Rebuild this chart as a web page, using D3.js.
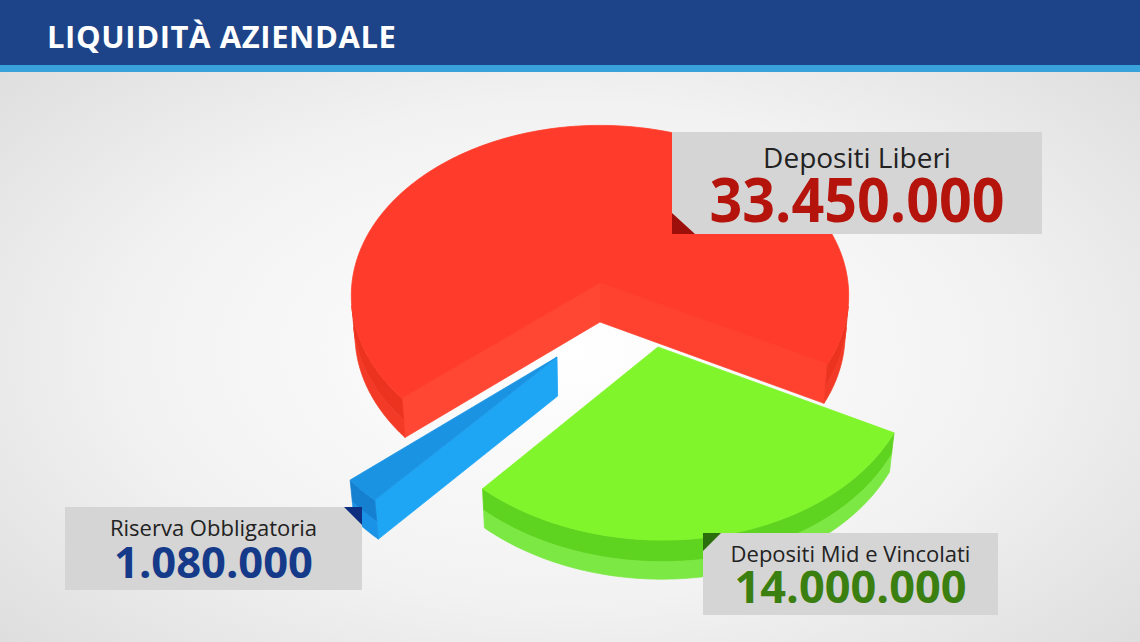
<!DOCTYPE html>
<html><head><meta charset="utf-8">
<script src="https://cdn.jsdelivr.net/npm/d3@7"></script>
<style>html,body{margin:0;padding:0;overflow:hidden;background:#fff}</style>
</head><body>
<svg id="c" width="1140" height="642"></svg>
<script>
// ---- data ----
const title = "LIQUIDITÀ AZIENDALE";
const categories = ["Depositi Liberi", "Depositi Mid e Vincolati", "Riserva Obbligatoria"];
const values = [33450000, 14000000, 1080000];

// ---- layout / style ----
const W = 1140, H = 642;
const P = {cx: 600, cy: 283, F: 2480, D: 10, theta: 43 * Math.PI / 180, thick: 0.218};
const startDeg = 139.5;
const explode = [[0, 0], [0.2276, 0.368], [-0.168, 0.424]];
const palette = [
  {top: "#ff3c2b", cutStart: "#ff4733", cutEnd: "#ff4230", wallTop: "#eb3320", wallBot: "#f23a26"},
  {top: "#80f52b", cutStart: "#78ee26", cutEnd: "#78ee26", wallTop: "#5fd420", wallBot: "#7ce844"},
  {top: "#1b93e3", cutStart: "#1ea6f5", cutEnd: "#1ea6f5", wallTop: "#1580d0", wallBot: "#1a92e6"}
];
const labelStyle = [
  {x: 672, y: 132, w: 370, h: 102, nameSize: 28, valSize: 60, nameY: 36, valY: 90, valColor: "#b5140c", tri: "bl", triColor: "#9c0f0a", valLen: 295},
  {x: 703, y: 533, w: 295, h: 82, nameSize: 22, valSize: 44, nameY: 29, valY: 70, valColor: "#3a7f10", tri: "tl", triColor: "#2b6e0c", valLen: 232},
  {x: 65, y: 507, w: 297, h: 83, nameSize: 22, valSize: 43, nameY: 29, valY: 71, valColor: "#163a8a", tri: "tr", triColor: "#102e80", valLen: 199}
];

const itFmt = d3.formatLocale({decimal: ",", thousands: ".", grouping: [3], currency: ["€", ""]}).format(",d");

const svg = d3.select("#c");
const defs = svg.append("defs");
const bg = defs.append("radialGradient").attr("id", "bg").attr("cx", "50%").attr("cy", "55%").attr("r", "70%");
bg.append("stop").attr("offset", "0%").attr("stop-color", "#ffffff");
bg.append("stop").attr("offset", "55%").attr("stop-color", "#f2f2f2");
bg.append("stop").attr("offset", "100%").attr("stop-color", "#dcdcdc");
svg.append("rect").attr("width", W).attr("height", H).attr("fill", "url(#bg)");

// title bar
svg.append("rect").attr("x", 0).attr("y", 0).attr("width", W).attr("height", 66).attr("fill", "#1d4488");
svg.append("rect").attr("x", 0).attr("y", 65).attr("width", W).attr("height", 7).attr("fill", "#3aa2da");
svg.append("text").attr("x", 47).attr("y", 48).text(title)
  .attr("font-family", "'Open Sans', sans-serif").attr("font-weight", 700)
  .attr("font-size", 31).attr("letter-spacing", 0.6).attr("fill", "#ffffff");

// ---- 3D pie ----
const sinT = Math.sin(P.theta), cosT = Math.cos(P.theta);
function project(u, v, h) {
  const yc = v * sinT - h * cosT;
  const z = P.D - v * cosT - h * sinT;
  return [P.cx + P.F * u / z, P.cy + P.F * yc / z, z];
}
const cam = [0, P.D * cosT, P.D * sinT];

const start = startDeg * Math.PI / 180;
const arcs = d3.pie().sort(null).startAngle(start).endAngle(start + 2 * Math.PI)(values);
const line = d3.line().curve(d3.curveLinearClosed);
const Hh = P.thick;

function visible(n, p) {
  const d = [cam[0] - p[0], cam[1] - p[1], cam[2] - p[2]];
  return n[0] * d[0] + n[1] * d[1] + n[2] * d[2] > 0;
}

const slices = arcs.map((a, i) => {
  const [ou, ov] = explode[i];
  const steps = Math.max(2, Math.ceil((a.endAngle - a.startAngle) / (1 * Math.PI / 180)));
  const angs = d3.range(steps + 1).map(k => a.startAngle + (a.endAngle - a.startAngle) * k / steps);
  const pt = (ang, h) => [ou + Math.cos(ang), ov + Math.sin(ang), h];
  const faces = [];
  // outer wall: contiguous visible runs, two bands each
  const hMid = -Hh * 0.55;
  const vis = angs.slice(0, -1).map((a0, k) => {
    const am = (a0 + angs[k + 1]) / 2;
    return visible([Math.cos(am), Math.sin(am), 0], pt(am, -Hh / 2));
  });
  let runs = [], cur = null;
  vis.forEach((v, k) => {
    if (v) { if (!cur) { cur = [k, k + 1]; runs.push(cur); } else cur[1] = k + 1; }
    else cur = null;
  });
  runs.forEach(([k0, k1]) => {
    const seg = angs.slice(k0, k1 + 1);
    const am = (seg[0] + seg[seg.length - 1]) / 2;
    const depth = project(...pt(am, -Hh / 2))[2];
    const band = (h0, h1) => [...seg.map(g => pt(g, h0)), ...seg.slice().reverse().map(g => pt(g, h1))];
    faces.push({pts: band(0, hMid), fill: palette[i].wallTop, depth});
    faces.push({pts: band(hMid, -Hh), fill: palette[i].wallBot, depth: depth - 1e-4});
  });
  // cut faces
  const apexT = [ou, ov, 0], apexB = [ou, ov, -Hh];
  [[a.startAngle, -1, palette[i].cutStart], [a.endAngle, 1, palette[i].cutEnd]].forEach(([ang, s, col]) => {
    const n = [-s * Math.sin(ang), s * Math.cos(ang), 0];
    const c = pt(ang, -Hh / 2); c[0] = (c[0] + ou) / 2; c[1] = (c[1] + ov) / 2;
    if (!visible(n, c)) return;
    faces.push({pts: [apexT, pt(ang, 0), pt(ang, -Hh), apexB], fill: col, depth: project(...c)[2]});
  });
  faces.sort((x, y) => y.depth - x.depth);
  const top = [apexT, ...angs.map(g => pt(g, 0))];
  const cen = pt((a.startAngle + a.endAngle) / 2, 0);
  return {i, faces, top, depth: project((cen[0] + ou) / 2, (cen[1] + ov) / 2, 0)[2]};
});
slices.sort((x, y) => y.depth - x.depth);

const pieG = svg.append("g");
slices.forEach(s => {
  const g = pieG.append("g").attr("class", "slice");
  s.faces.forEach(f => {
    g.append("path").attr("d", line(f.pts.map(p => project(...p).slice(0, 2))))
      .attr("fill", f.fill).attr("stroke", f.fill).attr("stroke-width", 0.8).attr("stroke-linejoin", "round");
  });
  g.append("path").attr("d", line(s.top.map(p => project(...p).slice(0, 2))))
    .attr("fill", palette[s.i].top).attr("stroke", palette[s.i].top).attr("stroke-width", 0.8).attr("stroke-linejoin", "round");
});

// ---- labels ----
labelStyle.forEach((ls, i) => {
  const g = svg.append("g").attr("transform", `translate(${ls.x},${ls.y})`);
  g.append("rect").attr("width", ls.w).attr("height", ls.h).attr("fill", "#d5d5d5");
  let tri;
  const t = 18;
  if (ls.tri === "bl") tri = [[0, ls.h - t - 3], [0, ls.h], [t + 5, ls.h]];
  if (ls.tri === "tl") tri = [[0, 0], [t, 0], [0, t]];
  if (ls.tri === "tr") tri = [[ls.w - t, 0], [ls.w, 0], [ls.w, t]];
  g.append("path").attr("d", line(tri)).attr("fill", ls.triColor);
  g.append("text").attr("x", ls.w / 2).attr("y", ls.nameY).attr("text-anchor", "middle")
    .attr("font-family", "'Open Sans', sans-serif").attr("font-size", ls.nameSize).attr("fill", "#222")
    .text(categories[i]);
  const vt = g.append("text").attr("x", ls.w / 2).attr("y", ls.valY).attr("text-anchor", "middle")
    .attr("font-family", "'Open Sans', sans-serif").attr("font-weight", 700).attr("font-size", ls.valSize)
    .attr("fill", ls.valColor).text(itFmt(values[i]));
  if (ls.valLen) vt.attr("textLength", ls.valLen).attr("lengthAdjust", "spacingAndGlyphs");
});
</script>
</body></html>
